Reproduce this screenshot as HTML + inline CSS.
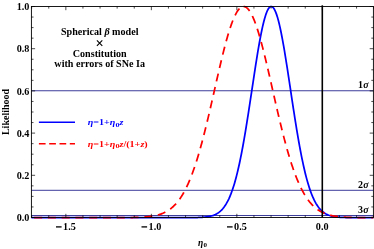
<!DOCTYPE html>
<html><head><meta charset="utf-8"><title>Likelihood</title>
<style>
html,body{margin:0;padding:0;background:#fff;}
body{width:374px;height:249px;overflow:hidden;position:relative;font-family:"Liberation Serif",serif;}
svg{position:absolute;left:0;top:0;will-change:transform;}
text{font-family:"Liberation Serif",serif;font-weight:bold;}
</style></head><body>
<svg width="374" height="249" viewBox="0 0 374 249">
<rect x="0" y="0" width="374" height="249" fill="#fff"/>

<line x1="31.40" x2="373.40" y1="90.75" y2="90.75" stroke="#3d3d9b" stroke-width="1"/>
<line x1="31.40" x2="373.40" y1="190.30" y2="190.30" stroke="#3d3d9b" stroke-width="1"/>
<line x1="31.40" x2="373.40" y1="215.50" y2="215.50" stroke="#3d3d9b" stroke-width="1"/>
<path d="M31.40,217.65 L32.08,217.65 L32.77,217.65 L33.45,217.65 L34.14,217.65 L34.82,217.65 L35.50,217.65 L36.19,217.65 L36.87,217.65 L37.56,217.65 L38.24,217.65 L38.92,217.65 L39.61,217.65 L40.29,217.65 L40.98,217.65 L41.66,217.65 L42.34,217.65 L43.03,217.65 L43.71,217.65 L44.40,217.65 L45.08,217.65 L45.76,217.65 L46.45,217.65 L47.13,217.65 L47.82,217.65 L48.50,217.65 L49.18,217.65 L49.87,217.65 L50.55,217.65 L51.24,217.65 L51.92,217.65 L52.60,217.65 L53.29,217.65 L53.97,217.65 L54.66,217.65 L55.34,217.65 L56.02,217.65 L56.71,217.65 L57.39,217.65 L58.08,217.65 L58.76,217.65 L59.44,217.65 L60.13,217.65 L60.81,217.65 L61.50,217.65 L62.18,217.65 L62.86,217.65 L63.55,217.65 L64.23,217.65 L64.92,217.65 L65.60,217.65 L66.28,217.65 L66.97,217.65 L67.65,217.65 L68.34,217.65 L69.02,217.65 L69.70,217.65 L70.39,217.65 L71.07,217.65 L71.76,217.65 L72.44,217.65 L73.12,217.65 L73.81,217.65 L74.49,217.65 L75.18,217.65 L75.86,217.65 L76.54,217.65 L77.23,217.65 L77.91,217.65 L78.60,217.65 L79.28,217.65 L79.96,217.65 L80.65,217.65 L81.33,217.65 L82.02,217.65 L82.70,217.65 L83.38,217.65 L84.07,217.65 L84.75,217.65 L85.44,217.65 L86.12,217.65 L86.80,217.65 L87.49,217.65 L88.17,217.65 L88.86,217.65 L89.54,217.65 L90.22,217.65 L90.91,217.65 L91.59,217.65 L92.28,217.65 L92.96,217.65 L93.64,217.65 L94.33,217.65 L95.01,217.65 L95.70,217.65 L96.38,217.65 L97.06,217.65 L97.75,217.65 L98.43,217.65 L99.12,217.65 L99.80,217.65 L100.48,217.65 L101.17,217.65 L101.85,217.65 L102.54,217.65 L103.22,217.65 L103.90,217.65 L104.59,217.65 L105.27,217.65 L105.96,217.65 L106.64,217.65 L107.32,217.65 L108.01,217.65 L108.69,217.65 L109.38,217.65 L110.06,217.65 L110.74,217.65 L111.43,217.65 L112.11,217.65 L112.80,217.65 L113.48,217.65 L114.16,217.65 L114.85,217.65 L115.53,217.65 L116.22,217.65 L116.90,217.65 L117.58,217.65 L118.27,217.65 L118.95,217.65 L119.64,217.65 L120.32,217.65 L121.00,217.65 L121.69,217.65 L122.37,217.65 L123.06,217.65 L123.74,217.65 L124.42,217.65 L125.11,217.65 L125.79,217.65 L126.48,217.65 L127.16,217.65 L127.84,217.65 L128.53,217.65 L129.21,217.65 L129.90,217.65 L130.58,217.65 L131.26,217.65 L131.95,217.65 L132.63,217.65 L133.32,217.65 L134.00,217.65 L134.68,217.65 L135.37,217.65 L136.05,217.65 L136.74,217.65 L137.42,217.65 L138.10,217.65 L138.79,217.65 L139.47,217.65 L140.16,217.65 L140.84,217.65 L141.52,217.65 L142.21,217.65 L142.89,217.65 L143.58,217.65 L144.26,217.65 L144.94,217.65 L145.63,217.65 L146.31,217.65 L147.00,217.65 L147.68,217.65 L148.36,217.65 L149.05,217.65 L149.73,217.65 L150.42,217.65 L151.10,217.65 L151.78,217.65 L152.47,217.65 L153.15,217.65 L153.84,217.65 L154.52,217.65 L155.20,217.65 L155.89,217.65 L156.57,217.65 L157.26,217.65 L157.94,217.65 L158.62,217.65 L159.31,217.65 L159.99,217.65 L160.68,217.65 L161.36,217.65 L162.04,217.65 L162.73,217.65 L163.41,217.65 L164.10,217.65 L164.78,217.65 L165.46,217.65 L166.15,217.65 L166.83,217.65 L167.52,217.65 L168.20,217.65 L168.88,217.65 L169.57,217.65 L170.25,217.65 L170.94,217.65 L171.62,217.65 L172.30,217.65 L172.99,217.65 L173.67,217.65 L174.36,217.65 L175.04,217.65 L175.72,217.65 L176.41,217.65 L177.09,217.65 L177.78,217.65 L178.46,217.65 L179.14,217.65 L179.83,217.65 L180.51,217.65 L181.20,217.65 L181.88,217.65 L182.56,217.64 L183.25,217.64 L183.93,217.64 L184.62,217.64 L185.30,217.64 L185.98,217.64 L186.67,217.64 L187.35,217.63 L188.04,217.63 L188.72,217.63 L189.40,217.62 L190.09,217.62 L190.77,217.62 L191.46,217.61 L192.14,217.60 L192.82,217.60 L193.51,217.59 L194.19,217.58 L194.88,217.57 L195.56,217.56 L196.24,217.54 L196.93,217.52 L197.61,217.51 L198.30,217.49 L198.98,217.46 L199.66,217.44 L200.35,217.41 L201.03,217.37 L201.72,217.33 L202.40,217.29 L203.08,217.24 L203.77,217.19 L204.45,217.13 L205.14,217.06 L205.82,216.98 L206.50,216.90 L207.19,216.81 L207.87,216.70 L208.56,216.58 L209.24,216.45 L209.92,216.31 L210.61,216.15 L211.29,215.97 L211.98,215.78 L212.66,215.57 L213.34,215.33 L214.03,215.07 L214.71,214.78 L215.40,214.47 L216.08,214.13 L216.76,213.76 L217.45,213.35 L218.13,212.90 L218.82,212.42 L219.50,211.89 L220.18,211.32 L220.87,210.70 L221.55,210.03 L222.24,209.31 L222.92,208.53 L223.60,207.68 L224.29,206.78 L224.97,205.80 L225.66,204.76 L226.34,203.64 L227.02,202.44 L227.71,201.16 L228.39,199.79 L229.08,198.34 L229.76,196.79 L230.44,195.15 L231.13,193.41 L231.81,191.57 L232.50,189.63 L233.18,187.57 L233.86,185.41 L234.55,183.14 L235.23,180.75 L235.92,178.24 L236.60,175.62 L237.28,172.88 L237.97,170.03 L238.65,167.05 L239.34,163.95 L240.02,160.74 L240.70,157.41 L241.39,153.97 L242.07,150.42 L242.76,146.75 L243.44,142.98 L244.12,139.11 L244.81,135.14 L245.49,131.08 L246.18,126.94 L246.86,122.72 L247.54,118.42 L248.23,114.06 L248.91,109.65 L249.60,105.19 L250.28,100.69 L250.96,96.17 L251.65,91.63 L252.33,87.08 L253.02,82.54 L253.70,78.02 L254.38,73.53 L255.07,69.09 L255.75,64.69 L256.44,60.37 L257.12,56.13 L257.80,51.98 L258.49,47.94 L259.17,44.02 L259.86,40.24 L260.54,36.60 L261.22,33.11 L261.91,29.80 L262.59,26.67 L263.28,23.73 L263.96,20.99 L264.64,18.47 L265.33,16.17 L266.01,14.09 L266.70,12.26 L267.38,10.67 L268.06,9.33 L268.75,8.24 L269.43,7.41 L270.12,6.85 L270.80,6.55 L271.48,6.52 L272.17,6.75 L272.85,7.25 L273.54,8.01 L274.22,9.03 L274.90,10.31 L275.59,11.84 L276.27,13.61 L276.96,15.63 L277.64,17.87 L278.32,20.34 L279.01,23.03 L279.69,25.92 L280.38,29.00 L281.06,32.27 L281.74,35.71 L282.43,39.31 L283.11,43.06 L283.80,46.95 L284.48,50.96 L285.16,55.08 L285.85,59.30 L286.53,63.61 L287.22,67.98 L287.90,72.42 L288.58,76.90 L289.27,81.41 L289.95,85.95 L290.64,90.49 L291.32,95.03 L292.00,99.56 L292.69,104.07 L293.37,108.54 L294.06,112.96 L294.74,117.34 L295.42,121.65 L296.11,125.89 L296.79,130.05 L297.48,134.14 L298.16,138.13 L298.84,142.02 L299.53,145.82 L300.21,149.51 L300.90,153.09 L301.58,156.56 L302.26,159.92 L302.95,163.16 L303.63,166.29 L304.32,169.29 L305.00,172.18 L305.68,174.95 L306.37,177.60 L307.05,180.13 L307.74,182.55 L308.42,184.85 L309.10,187.04 L309.79,189.12 L310.47,191.10 L311.16,192.96 L311.84,194.73 L312.52,196.39 L313.21,197.96 L313.89,199.44 L314.58,200.83 L315.26,202.13 L315.94,203.34 L316.63,204.48 L317.31,205.55 L318.00,206.54 L318.68,207.46 L319.36,208.32 L320.05,209.12 L320.73,209.86 L321.42,210.54 L322.10,211.17 L322.78,211.76 L323.47,212.29 L324.15,212.79 L324.84,213.24 L325.52,213.66 L326.20,214.04 L326.89,214.39 L327.57,214.71 L328.26,215.00 L328.94,215.27 L329.62,215.51 L330.31,215.73 L330.99,215.93 L331.68,216.11 L332.36,216.27 L333.04,216.42 L333.73,216.55 L334.41,216.67 L335.10,216.78 L335.78,216.88 L336.46,216.96 L337.15,217.04 L337.83,217.11 L338.52,217.17 L339.20,217.23 L339.88,217.28 L340.57,217.32 L341.25,217.36 L341.94,217.40 L342.62,217.43 L343.30,217.46 L343.99,217.48 L344.67,217.50 L345.36,217.52 L346.04,217.54 L346.72,217.55 L347.41,217.56 L348.09,217.58 L348.78,217.59 L349.46,217.59 L350.14,217.60 L350.83,217.61 L351.51,217.61 L352.20,217.62 L352.88,217.62 L353.56,217.63 L354.25,217.63 L354.93,217.63 L355.62,217.64 L356.30,217.64 L356.98,217.64 L357.67,217.64 L358.35,217.64 L359.04,217.64 L359.72,217.64 L360.40,217.65 L361.09,217.65 L361.77,217.65 L362.46,217.65 L363.14,217.65 L363.82,217.65 L364.51,217.65 L365.19,217.65 L365.88,217.65 L366.56,217.65 L367.24,217.65 L367.93,217.65 L368.61,217.65 L369.30,217.65 L369.98,217.65 L370.66,217.65 L371.35,217.65 L372.03,217.65 L372.72,217.65 L373.40,217.65" fill="none" stroke="#0000ff" stroke-width="1.75" stroke-linejoin="round"/>
<path d="M31.40,217.65 L31.93,217.65 L32.46,217.65 L32.99,217.65 L33.52,217.65 L34.05,217.65 L34.58,217.65 L35.11,217.65 L35.64,217.65 L36.17,217.65 L36.70,217.65 L37.23,217.65 L37.77,217.65 L38.30,217.65 L38.83,217.65 L39.36,217.65 L39.89,217.65 L40.42,217.65 L40.95,217.65 L41.48,217.65 L42.01,217.65 L42.54,217.65 L43.07,217.65 L43.60,217.65 L44.13,217.65 L44.66,217.65 L45.19,217.65 L45.72,217.65 L46.25,217.65 L46.78,217.65 L47.31,217.65 L47.84,217.65 L48.37,217.65 L48.90,217.65 L49.44,217.65 L49.97,217.65 L50.50,217.65 L51.03,217.65 L51.56,217.65 L52.09,217.65 L52.62,217.65 L53.15,217.65 L53.68,217.65 L54.21,217.65 L54.74,217.65 L55.27,217.65 L55.80,217.65 L56.33,217.65 L56.86,217.65 L57.39,217.65 L57.92,217.65 L58.45,217.65 L58.98,217.65 L59.51,217.65 L60.04,217.65 L60.57,217.65 L61.10,217.65 L61.64,217.65 L62.17,217.65 L62.70,217.65 L63.23,217.65 L63.76,217.65 L64.29,217.65 L64.82,217.65 L65.35,217.65 L65.88,217.65 L66.41,217.65 L66.94,217.65 L67.47,217.65 L68.00,217.65 L68.53,217.65 L69.06,217.65 L69.59,217.65 L70.12,217.65 L70.65,217.65 L71.18,217.65 L71.71,217.65 L72.24,217.65 L72.77,217.65 L73.30,217.65 L73.84,217.65 L74.37,217.65 L74.90,217.65 L75.43,217.65 L75.96,217.65 L76.49,217.65 L77.02,217.65 L77.55,217.65 L78.08,217.65 L78.61,217.65 L79.14,217.65 L79.67,217.65 L80.20,217.65 L80.73,217.65 L81.26,217.65 L81.79,217.65 L82.32,217.65 L82.85,217.65 L83.38,217.65 L83.91,217.65 L84.44,217.65 L84.97,217.65 L85.51,217.65 L86.04,217.65 L86.57,217.65 L87.10,217.65 L87.63,217.65 L88.16,217.65 L88.69,217.65 L89.22,217.65 L89.75,217.65 L90.28,217.65 L90.81,217.65 L91.34,217.65 L91.87,217.65 L92.40,217.65 L92.93,217.65 L93.46,217.65 L93.99,217.65 L94.52,217.65 L95.05,217.65 L95.58,217.65 L96.11,217.65 L96.64,217.65 L97.17,217.65 L97.71,217.65 L98.24,217.65 L98.77,217.65 L99.30,217.65 L99.83,217.65 L100.36,217.65 L100.89,217.65 L101.42,217.65 L101.95,217.65 L102.48,217.65 L103.01,217.65 L103.54,217.65 L104.07,217.65 L104.60,217.65 L105.13,217.65 L105.66,217.65 L106.19,217.65 L106.72,217.65 L107.25,217.65 L107.78,217.65 L108.31,217.65 L108.84,217.65 L109.37,217.65 L109.91,217.64 L110.44,217.64 L110.97,217.64 L111.50,217.64 L112.03,217.64 L112.56,217.64 L113.09,217.64 L113.62,217.64 L114.15,217.64 L114.68,217.64 L115.21,217.64 L115.74,217.64 L116.27,217.64 L116.80,217.64 L117.33,217.63 L117.86,217.63 L118.39,217.63 L118.92,217.63 L119.45,217.63 L119.98,217.63 L120.51,217.62 L121.04,217.62 L121.58,217.62 L122.11,217.62 L122.64,217.62 L123.17,217.61 L123.70,217.61 L124.23,217.61 L124.76,217.60 L125.29,217.60 L125.82,217.60 L126.35,217.59 L126.88,217.59 L127.41,217.58 L127.94,217.58 L128.47,217.57 L129.00,217.56 L129.53,217.56 L130.06,217.55 L130.59,217.54 L131.12,217.54 L131.65,217.53 L132.18,217.52 L132.71,217.51 L133.24,217.50 L133.78,217.49 L134.31,217.48 L134.84,217.46 L135.37,217.45 L135.90,217.44 L136.43,217.42 L136.96,217.41 L137.49,217.39 L138.02,217.37 L138.55,217.35 L139.08,217.33 L139.61,217.31 L140.14,217.29 L140.67,217.26 L141.20,217.24 L141.73,217.21 L142.26,217.18 L142.79,217.15 L143.32,217.12 L143.85,217.08 L144.38,217.05 L144.91,217.01 L145.45,216.97 L145.98,216.92 L146.51,216.88 L147.04,216.83 L147.57,216.78 L148.10,216.72 L148.63,216.66 L149.16,216.60 L149.69,216.54 L150.22,216.47 L150.75,216.40 L151.28,216.32 L151.81,216.24 L152.34,216.16 L152.87,216.07 L153.40,215.98 L153.93,215.88 L154.46,215.78 L154.99,215.67 L155.52,215.56 L156.05,215.44 L156.58,215.31 L157.11,215.18 L157.65,215.04 L158.18,214.90 L158.71,214.75 L159.24,214.59 L159.77,214.42 L160.30,214.25 L160.83,214.06 L161.36,213.87 L161.89,213.67 L162.42,213.46 L162.95,213.24 L163.48,213.01 L164.01,212.77 L164.54,212.52 L165.07,212.26 L165.60,211.99 L166.13,211.70 L166.66,211.41 L167.19,211.10 L167.72,210.77 L168.25,210.44 L168.78,210.09 L169.31,209.72 L169.85,209.34 L170.38,208.95 L170.91,208.54 L171.44,208.11 L171.97,207.67 L172.50,207.21 L173.03,206.73 L173.56,206.24 L174.09,205.72 L174.62,205.19 L175.15,204.64 L175.68,204.07 L176.21,203.47 L176.74,202.86 L177.27,202.23 L177.80,201.57 L178.33,200.89 L178.86,200.19 L179.39,199.46 L179.92,198.71 L180.45,197.94 L180.98,197.14 L181.52,196.32 L182.05,195.47 L182.58,194.59 L183.11,193.69 L183.64,192.77 L184.17,191.81 L184.70,190.83 L185.23,189.82 L185.76,188.78 L186.29,187.71 L186.82,186.61 L187.35,185.48 L187.88,184.32 L188.41,183.14 L188.94,181.92 L189.47,180.67 L190.00,179.39 L190.53,178.08 L191.06,176.74 L191.59,175.37 L192.12,173.97 L192.65,172.53 L193.18,171.07 L193.72,169.57 L194.25,168.04 L194.78,166.48 L195.31,164.89 L195.84,163.26 L196.37,161.61 L196.90,159.92 L197.43,158.20 L197.96,156.46 L198.49,154.68 L199.02,152.87 L199.55,151.04 L200.08,149.17 L200.61,147.27 L201.14,145.35 L201.67,143.40 L202.20,141.42 L202.73,139.42 L203.26,137.39 L203.79,135.33 L204.32,133.25 L204.85,131.15 L205.38,129.02 L205.92,126.87 L206.45,124.70 L206.98,122.52 L207.51,120.31 L208.04,118.08 L208.57,115.84 L209.10,113.58 L209.63,111.31 L210.16,109.02 L210.69,106.73 L211.22,104.42 L211.75,102.10 L212.28,99.77 L212.81,97.44 L213.34,95.10 L213.87,92.76 L214.40,90.42 L214.93,88.08 L215.46,85.73 L215.99,83.39 L216.52,81.06 L217.05,78.73 L217.59,76.41 L218.12,74.09 L218.65,71.79 L219.18,69.50 L219.71,67.23 L220.24,64.97 L220.77,62.73 L221.30,60.51 L221.83,58.31 L222.36,56.13 L222.89,53.98 L223.42,51.85 L223.95,49.76 L224.48,47.69 L225.01,45.66 L225.54,43.66 L226.07,41.70 L226.60,39.77 L227.13,37.89 L227.66,36.04 L228.19,34.24 L228.72,32.48 L229.25,30.77 L229.79,29.10 L230.32,27.48 L230.85,25.92 L231.38,24.40 L231.91,22.94 L232.44,21.53 L232.97,20.18 L233.50,18.89 L234.03,17.65 L234.56,16.48 L235.09,15.36 L235.62,14.31 L236.15,13.32 L236.68,12.39 L237.21,11.53 L237.74,10.74 L238.27,10.01 L238.80,9.34 L239.33,8.75 L239.86,8.23 L240.39,7.77 L240.92,7.38 L241.46,7.06 L241.99,6.82 L242.52,6.64 L243.05,6.54 L243.58,6.50" fill="none" stroke="#ff0000" stroke-width="1.75" stroke-dasharray="8.05 5.72" stroke-dashoffset="-2.70" stroke-linejoin="round"/>
<path d="M243.58,6.50 L243.90,6.51 L244.23,6.55 L244.55,6.62 L244.88,6.71 L245.20,6.83 L245.52,6.98 L245.85,7.15 L246.17,7.35 L246.50,7.57 L246.82,7.82 L247.15,8.10 L247.47,8.40 L247.80,8.73 L248.12,9.08 L248.45,9.46 L248.77,9.86 L249.09,10.29 L249.42,10.75 L249.74,11.23 L250.07,11.73 L250.39,12.26 L250.72,12.81 L251.04,13.39 L251.37,13.99 L251.69,14.61 L252.02,15.26 L252.34,15.93 L252.66,16.63 L252.99,17.34 L253.31,18.08 L253.64,18.85 L253.96,19.63 L254.29,20.43 L254.61,21.26 L254.94,22.11 L255.26,22.98 L255.59,23.87 L255.91,24.78 L256.23,25.70 L256.56,26.65 L256.88,27.62 L257.21,28.61 L257.53,29.61 L257.86,30.63 L258.18,31.67 L258.51,32.73 L258.83,33.81 L259.16,34.90 L259.48,36.01 L259.80,37.13 L260.13,38.27 L260.45,39.43 L260.78,40.59 L261.10,41.78 L261.43,42.98 L261.75,44.19 L262.08,45.41 L262.40,46.65 L262.73,47.90 L263.05,49.16 L263.37,50.43 L263.70,51.72 L264.02,53.01 L264.35,54.32 L264.67,55.64 L265.00,56.96 L265.32,58.29 L265.65,59.64 L265.97,60.99 L266.30,62.35 L266.62,63.71 L266.94,65.09 L267.27,66.47 L267.59,67.86 L267.92,69.25 L268.24,70.65 L268.57,72.05 L268.89,73.46 L269.22,74.87 L269.54,76.29 L269.87,77.71 L270.19,79.13 L270.52,80.56 L270.84,81.98 L271.16,83.41 L271.49,84.84 L271.81,86.28 L272.14,87.71 L272.46,89.14 L272.79,90.58 L273.11,92.01 L273.44,93.45 L273.76,94.88 L274.09,96.31 L274.41,97.74 L274.73,99.17 L275.06,100.59 L275.38,102.01 L275.71,103.43 L276.03,104.85 L276.36,106.26 L276.68,107.67 L277.01,109.07 L277.33,110.47 L277.66,111.87 L277.98,113.26 L278.30,114.64 L278.63,116.02 L278.95,117.40 L279.28,118.76 L279.60,120.12 L279.93,121.48 L280.25,122.82 L280.58,124.16 L280.90,125.50 L281.23,126.82 L281.55,128.14 L281.87,129.45 L282.20,130.75 L282.52,132.04 L282.85,133.33 L283.17,134.60 L283.50,135.87 L283.82,137.12 L284.15,138.37 L284.47,139.61 L284.80,140.84 L285.12,142.05 L285.44,143.26 L285.77,144.46 L286.09,145.65 L286.42,146.83 L286.74,147.99 L287.07,149.15 L287.39,150.29 L287.72,151.43 L288.04,152.55 L288.37,153.67 L288.69,154.77 L289.01,155.86 L289.34,156.94 L289.66,158.00 L289.99,159.06 L290.31,160.11 L290.64,161.14 L290.96,162.16 L291.29,163.17 L291.61,164.17 L291.94,165.16 L292.26,166.13 L292.59,167.09 L292.91,168.04 L293.23,168.98 L293.56,169.91 L293.88,170.83 L294.21,171.73 L294.53,172.62 L294.86,173.50 L295.18,174.37 L295.51,175.23 L295.83,176.08 L296.16,176.91 L296.48,177.73 L296.80,178.54 L297.13,179.34 L297.45,180.13 L297.78,180.90 L298.10,181.66 L298.43,182.42 L298.75,183.16 L299.08,183.89 L299.40,184.61 L299.73,185.31 L300.05,186.01 L300.37,186.69 L300.70,187.37 L301.02,188.03 L301.35,188.68 L301.67,189.32 L302.00,189.95 L302.32,190.57 L302.65,191.18 L302.97,191.78 L303.30,192.37 L303.62,192.95 L303.94,193.52 L304.27,194.07 L304.59,194.62 L304.92,195.16 L305.24,195.69 L305.57,196.21 L305.89,196.71 L306.22,197.21 L306.54,197.70 L306.87,198.18 L307.19,198.66 L307.51,199.12 L307.84,199.57 L308.16,200.02 L308.49,200.45 L308.81,200.88 L309.14,201.30 L309.46,201.71 L309.79,202.11 L310.11,202.50 L310.44,202.89 L310.76,203.26 L311.08,203.63 L311.41,204.00 L311.73,204.35 L312.06,204.70 L312.38,205.04 L312.71,205.37 L313.03,205.69 L313.36,206.01 L313.68,206.32 L314.01,206.62 L314.33,206.92 L314.66,207.21 L314.98,207.49 L315.30,207.77 L315.63,208.04 L315.95,208.30 L316.28,208.56 L316.60,208.82 L316.93,209.06 L317.25,209.30 L317.58,209.54 L317.90,209.77 L318.23,209.99 L318.55,210.21 L318.87,210.42 L319.20,210.63 L319.52,210.83 L319.85,211.03 L320.17,211.22 L320.50,211.41 L320.82,211.59 L321.15,211.77 L321.47,211.94 L321.80,212.11 L322.12,212.28 L322.44,212.44 L322.77,212.60 L323.09,212.75 L323.42,212.90 L323.74,213.04 L324.07,213.18 L324.39,213.32 L324.72,213.45 L325.04,213.58 L325.37,213.71 L325.69,213.83 L326.01,213.95 L326.34,214.07 L326.66,214.18 L326.99,214.29 L327.31,214.40 L327.64,214.50 L327.96,214.60 L328.29,214.70 L328.61,214.80 L328.94,214.89 L329.26,214.98 L329.58,215.06 L329.91,215.15 L330.23,215.23 L330.56,215.31 L330.88,215.39 L331.21,215.46 L331.53,215.54 L331.86,215.61 L332.18,215.68 L332.51,215.74 L332.83,215.81 L333.15,215.87 L333.48,215.93 L333.80,215.99 L334.13,216.05 L334.45,216.10 L334.78,216.15 L335.10,216.21 L335.43,216.26 L335.75,216.31 L336.08,216.35 L336.40,216.40 L336.72,216.44 L337.05,216.49 L337.37,216.53 L337.70,216.57 L338.02,216.61 L338.35,216.64 L338.67,216.68 L339.00,216.71 L339.32,216.75 L339.65,216.78 L339.97,216.81 L340.30,216.84 L340.62,216.87 L340.94,216.90 L341.27,216.93 L341.59,216.96 L341.92,216.98 L342.24,217.01 L342.57,217.03 L342.89,217.05 L343.22,217.08 L343.54,217.10 L343.87,217.12 L344.19,217.14 L344.51,217.16 L344.84,217.18 L345.16,217.20 L345.49,217.21 L345.81,217.23 L346.14,217.25 L346.46,217.26 L346.79,217.28 L347.11,217.29 L347.44,217.31 L347.76,217.32 L348.08,217.33 L348.41,217.35 L348.73,217.36 L349.06,217.37 L349.38,217.38 L349.71,217.39 L350.03,217.40 L350.36,217.41 L350.68,217.42 L351.01,217.43 L351.33,217.44 L351.65,217.45 L351.98,217.46 L352.30,217.46 L352.63,217.47 L352.95,217.48 L353.28,217.49 L353.60,217.49 L353.93,217.50 L354.25,217.51 L354.58,217.51 L354.90,217.52 L355.22,217.52 L355.55,217.53 L355.87,217.53 L356.20,217.54 L356.52,217.54 L356.85,217.55 L357.17,217.55 L357.50,217.56 L357.82,217.56 L358.15,217.56 L358.47,217.57 L358.79,217.57 L359.12,217.58 L359.44,217.58 L359.77,217.58 L360.09,217.58 L360.42,217.59 L360.74,217.59 L361.07,217.59 L361.39,217.60 L361.72,217.60 L362.04,217.60 L362.37,217.60 L362.69,217.60 L363.01,217.61 L363.34,217.61 L363.66,217.61 L363.99,217.61 L364.31,217.61 L364.64,217.62 L364.96,217.62 L365.29,217.62 L365.61,217.62 L365.94,217.62 L366.26,217.62 L366.58,217.62 L366.91,217.63 L367.23,217.63 L367.56,217.63 L367.88,217.63 L368.21,217.63 L368.53,217.63 L368.86,217.63 L369.18,217.63 L369.51,217.63 L369.83,217.63 L370.15,217.63 L370.48,217.64 L370.80,217.64 L371.13,217.64 L371.45,217.64 L371.78,217.64 L372.10,217.64 L372.43,217.64 L372.75,217.64 L373.08,217.64 L373.40,217.64" fill="none" stroke="#ff0000" stroke-width="1.75" stroke-dasharray="8.05 5.72" stroke-dashoffset="14.02" stroke-linejoin="round"/>
<rect x="31.40" y="6.50" width="342.00" height="211.00" fill="none" stroke="#000" stroke-width="0.9"/>
<line x1="322.30" x2="322.30" y1="5.30" y2="217.50" stroke="#000" stroke-width="1.6"/>
<path d="M31.40,217.50 h3.70 M373.40,217.50 h-3.70 M31.40,206.95 h2.10 M373.40,206.95 h-2.10 M31.40,196.40 h2.10 M373.40,196.40 h-2.10 M31.40,185.85 h2.10 M373.40,185.85 h-2.10 M31.40,175.30 h3.70 M373.40,175.30 h-3.70 M31.40,164.75 h2.10 M373.40,164.75 h-2.10 M31.40,154.20 h2.10 M373.40,154.20 h-2.10 M31.40,143.65 h2.10 M373.40,143.65 h-2.10 M31.40,133.10 h3.70 M373.40,133.10 h-3.70 M31.40,122.55 h2.10 M373.40,122.55 h-2.10 M31.40,112.00 h2.10 M373.40,112.00 h-2.10 M31.40,101.45 h2.10 M373.40,101.45 h-2.10 M31.40,90.90 h3.70 M373.40,90.90 h-3.70 M31.40,80.35 h2.10 M373.40,80.35 h-2.10 M31.40,69.80 h2.10 M373.40,69.80 h-2.10 M31.40,59.25 h2.10 M373.40,59.25 h-2.10 M31.40,48.70 h3.70 M373.40,48.70 h-3.70 M31.40,38.15 h2.10 M373.40,38.15 h-2.10 M31.40,27.60 h2.10 M373.40,27.60 h-2.10 M31.40,17.05 h2.10 M373.40,17.05 h-2.10 M31.40,6.50 h3.70 M373.40,6.50 h-3.70 M31.65,217.50 v-2.10 M31.65,6.50 v2.10 M48.75,217.50 v-2.10 M48.75,6.50 v2.10 M65.85,217.50 v-3.70 M65.85,6.50 v3.70 M82.95,217.50 v-2.10 M82.95,6.50 v2.10 M100.05,217.50 v-2.10 M100.05,6.50 v2.10 M117.15,217.50 v-2.10 M117.15,6.50 v2.10 M134.25,217.50 v-2.10 M134.25,6.50 v2.10 M151.35,217.50 v-3.70 M151.35,6.50 v3.70 M168.45,217.50 v-2.10 M168.45,6.50 v2.10 M185.55,217.50 v-2.10 M185.55,6.50 v2.10 M202.65,217.50 v-2.10 M202.65,6.50 v2.10 M219.75,217.50 v-2.10 M219.75,6.50 v2.10 M236.85,217.50 v-3.70 M236.85,6.50 v3.70 M253.95,217.50 v-2.10 M253.95,6.50 v2.10 M271.05,217.50 v-2.10 M271.05,6.50 v2.10 M288.15,217.50 v-2.10 M288.15,6.50 v2.10 M305.25,217.50 v-2.10 M305.25,6.50 v2.10 M322.35,217.50 v-3.70 M322.35,6.50 v3.70 M339.45,217.50 v-2.10 M339.45,6.50 v2.10 M356.55,217.50 v-2.10 M356.55,6.50 v2.10 M373.65,217.50 v-2.10 M373.65,6.50 v2.10" stroke="#000" stroke-width="0.7" fill="none"/>
<text x="29.40" y="221.10" font-size="10.2" text-anchor="end">0.0</text>
<text x="29.40" y="178.90" font-size="10.2" text-anchor="end">0.2</text>
<text x="29.40" y="136.70" font-size="10.2" text-anchor="end">0.4</text>
<text x="29.40" y="94.50" font-size="10.2" text-anchor="end">0.6</text>
<text x="29.40" y="52.30" font-size="10.2" text-anchor="end">0.8</text>
<text x="29.40" y="10.10" font-size="10.2" text-anchor="end">1.0</text>
<text x="63.10" y="230" font-size="10.2">1.5</text>
<rect x="56.00" y="226.25" width="5.6" height="1.3" fill="#000"/>
<text x="148.60" y="230" font-size="10.2">1.0</text>
<rect x="141.50" y="226.25" width="5.6" height="1.3" fill="#000"/>
<text x="234.10" y="230" font-size="10.2">0.5</text>
<rect x="227.00" y="226.25" width="5.6" height="1.3" fill="#000"/>
<text x="322.20" y="230" font-size="10.2" text-anchor="middle">0.0</text>
<text transform="translate(9.3,112) rotate(-90)" font-size="10" text-anchor="middle">Likelihood</text>
<text x="198" y="245.6" font-size="9.5" font-style="italic">η<tspan font-size="7" dy="1.3" dx="0.2" font-style="normal">0</tspan></text>
<text x="357.9" y="87.9" font-size="10">1<tspan font-style="italic" dx="0.3">σ</tspan></text>
<text x="357.9" y="187.6" font-size="10">2<tspan font-style="italic" dx="0.3">σ</tspan></text>
<text x="357.9" y="212.7" font-size="10">3<tspan font-style="italic" dx="0.3">σ</tspan></text>
<text x="99.7" y="34.7" font-size="10.1" text-anchor="middle">Spherical <tspan font-style="italic">β</tspan> model</text>
<path d="M96.9,40.4 l5.4,5.4 M102.3,40.4 l-5.4,5.4" stroke="#000" stroke-width="1.1" fill="none"/>
<text x="99.7" y="56.9" font-size="10.1" text-anchor="middle">Constitution</text>
<text x="99.7" y="67.3" font-size="10.1" text-anchor="middle">with errors of SNe Ia</text>
<line x1="38.9" x2="75" y1="122.3" y2="122.3" stroke="#0000ff" stroke-width="1.6"/>
<line x1="38.9" x2="75" y1="143.7" y2="143.7" stroke="#ff0000" stroke-width="1.35" stroke-dasharray="6.7 3.6"/>
<g transform="translate(87.80,125.20) scale(1.400,1)"><text x="0" y="0" font-size="7.20" fill="#0000ff"><tspan font-style="italic">η</tspan>=1+<tspan font-style="italic">η</tspan><tspan font-size="5.90" dy="1.5">0</tspan><tspan dy="-1.5" font-style="italic">z</tspan></text></g>
<g transform="translate(87.80,146.60) scale(1.400,1)"><text x="0" y="0" font-size="7.20" fill="#ff0000"><tspan font-style="italic">η</tspan>=1+<tspan font-style="italic">η</tspan><tspan font-size="5.90" dy="1.5">0</tspan><tspan dy="-1.5" font-style="italic">z</tspan>/(1+<tspan font-style="italic">z</tspan>)</text></g>
</svg></body></html>
